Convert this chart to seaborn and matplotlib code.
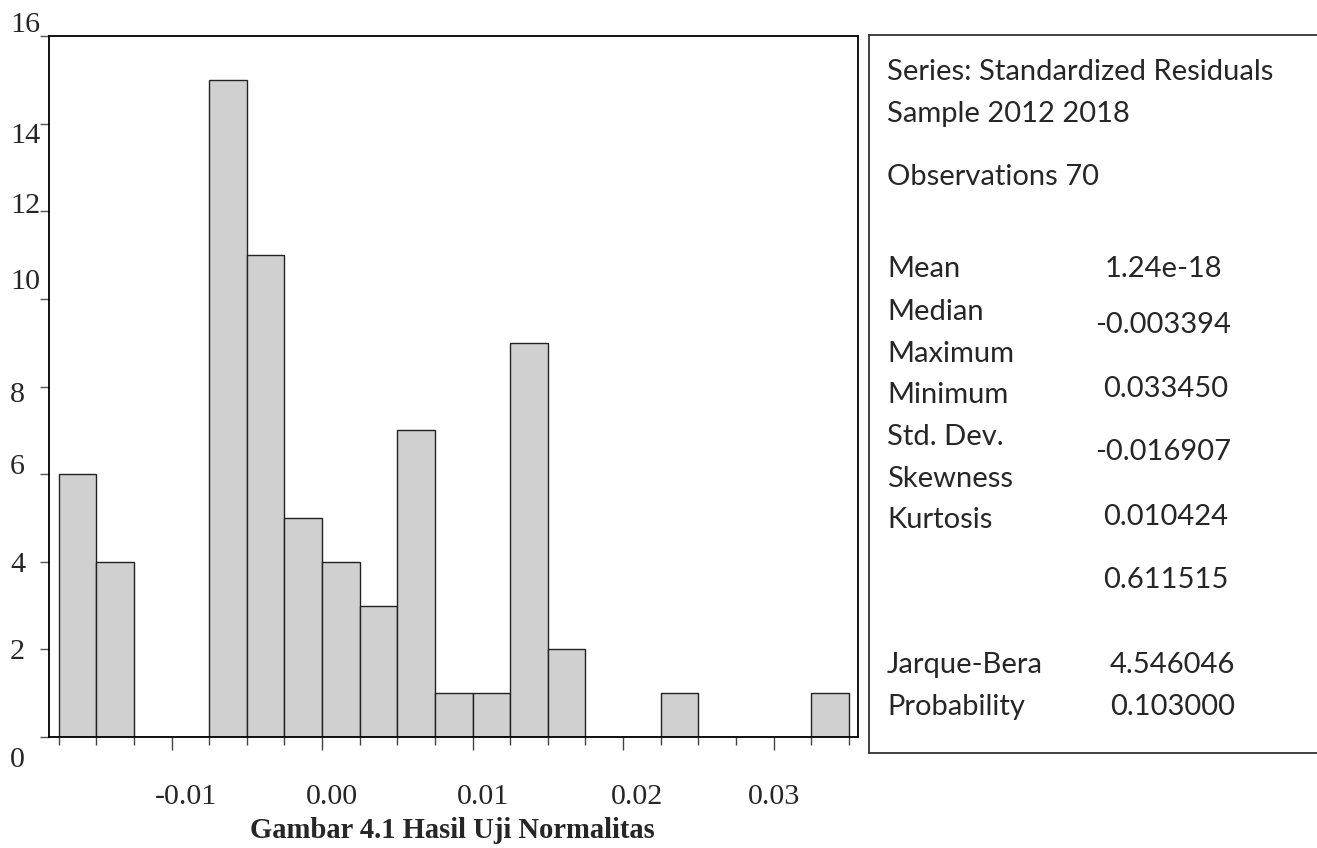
import matplotlib

matplotlib.use("Agg")
import matplotlib.pyplot as plt
import pandas as pd
import seaborn as sns
from matplotlib.ticker import FixedLocator
from matplotlib.transforms import ScaledTranslation

# Histogram of standardized residuals (bin width 0.0025)
bin_start = -0.0175
bin_width = 0.0025
counts = [6, 4, 0, 0, 15, 11, 5, 4, 3, 7, 1, 1, 9, 2, 0, 0, 1, 0, 0, 0, 1]

x_ticks = [-0.01, 0.00, 0.01, 0.02, 0.03]
x_tick_labels = ["-0.01", "0.00", "0.01", "0.02", "0.03"]
y_ticks = [0, 2, 4, 6, 8, 10, 12, 14, 16]

stat_header = ["Series: Standardized Residuals", "Sample 2012 2018", "Observations 70"]
stat_names = ["Mean", "Median", "Maximum", "Minimum", "Std. Dev.", "Skewness", "Kurtosis",
              "Jarque-Bera", "Probability"]
stat_values = ["1.24e-18", "-0.003394", "0.033450", "-0.016907", "0.010424", "0.611515",
               "4.546046", "0.103000"]

caption = "Gambar 4.1 Hasil Uji Normalitas"

W, H = 1317, 848


def fx(px):
    return px / W


def fy(py):
    return 1 - py / H


sns.set_style("white")
plt.rcParams["font.family"] = ["Liberation Serif", "DejaVu Serif"]

fig = plt.figure(figsize=(W / 100, H / 100), dpi=100)

# --- Histogram panel
ax = fig.add_axes([fx(49), fy(737), fx(858) - fx(49), fy(36) - fy(737)])
edges = [bin_start + bin_width * i for i in range(len(counts) + 1)]
df = pd.DataFrame({
    "center": [(edges[i] + edges[i + 1]) / 2 for i in range(len(counts))],
    "count": counts,
})
sns.histplot(data=df, x="center", weights="count", bins=edges, ax=ax, color="#d0d0d0",
             edgecolor="#222222", linewidth=1.0, alpha=1.0)
ax.set_xlim(-0.01814, 0.03561)
ax.set_ylim(0, 16)
ax.set_xlabel("")
ax.set_ylabel("")
for s in ax.spines.values():
    s.set_visible(True)
    s.set_color("black")
    s.set_linewidth(1.3)

ax.set_yticks(y_ticks)
ax.set_yticklabels([str(v) for v in y_ticks])
ax.set_xticks(x_ticks)
ax.set_xticklabels(x_tick_labels)
ax.xaxis.set_minor_locator(FixedLocator(edges))
ax.tick_params(axis="y", direction="out", length=6.5, width=1.0, color="#555555",
               labelsize=21.6, pad=21.5, left=True)
ax.tick_params(axis="x", which="major", direction="out", length=9.5, width=1.0,
               color="#444444", labelsize=21.6, pad=24.3, bottom=True)
ax.tick_params(axis="x", which="minor", direction="out", length=6, width=1.0,
               color="#444444", bottom=True)

# the original figure has slightly misplaced tick labels (pixel nudges)
y_nudge = [20, 0, 0, -10, 5, -20, -8, 9, -14]
for lab, dy in zip(ax.get_yticklabels(), y_nudge):
    lab.set_horizontalalignment("left")
    lab.set_transform(lab.get_transform() + ScaledTranslation(0, -dy / 100, fig.dpi_scale_trans))
x_nudge = [15, 10, 11, 14, 0]
for lab, dx in zip(ax.get_xticklabels(), x_nudge):
    lab.set_transform(lab.get_transform() + ScaledTranslation(dx / 100, 0, fig.dpi_scale_trans))

# --- Statistics panel
ax2 = fig.add_axes([fx(869), fy(753), 1.0 - fx(869) + 0.01, fy(35) - fy(753)])
ax2.set_xticks([])
ax2.set_yticks([])
for name, s in ax2.spines.items():
    s.set_visible(name != "right")
    s.set_color("#333333")
    s.set_linewidth(1.3)

sans = ["Lato", "DejaVu Sans"]
fs = 21
for txt, py in zip(stat_header, [80, 122, 185]):
    fig.text(fx(887), fy(py), txt, family=sans, fontsize=fs, va="baseline", ha="left")

name_y = [277, 320, 362, 403, 445, 487, 528, 673, 715]
for txt, py in zip(stat_names, name_y):
    fig.text(fx(887), fy(py), txt, family=sans, fontsize=fs, va="baseline", ha="left")

value_pos = [(1105, 277), (1095, 333), (1103, 397), (1095, 460), (1103, 525),
             (1103, 588), (1110, 673), (1110, 715)]
for txt, (px, py) in zip(stat_values, value_pos):
    fig.text(fx(px), fy(py), txt, family=sans, fontsize=fs, va="baseline", ha="left")

fig.text(fx(452), fy(838), caption, fontsize=20.6, fontweight="bold", ha="center", va="baseline")

fig.savefig("out.png", dpi=100)
